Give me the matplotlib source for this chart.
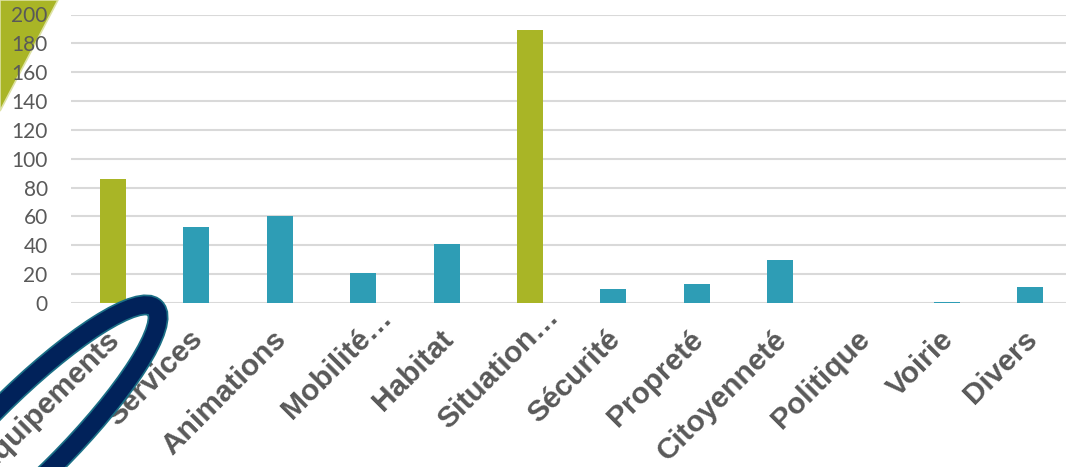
import numpy as np
import matplotlib.pyplot as plt
import matplotlib.transforms as mtransforms
from matplotlib.patches import Ellipse, Polygon

# chart data
categories = ["Equipements", "Services", "Animations", "Mobilité…", "Habitat",
              "Situation…", "Sécurité", "Propreté", "Citoyenneté", "Politique",
              "Voirie", "Divers"]
values = [86, 53, 60, 21, 41, 189, 10, 13, 30, 0, 1, 11]
highlight = [True, False, False, False, False, True,
             False, False, False, False, False, False]
y_ticks = [0, 20, 40, 60, 80, 100, 120, 140, 160, 180, 200]

green = "#A9B526"
teal = "#2E9DB5"
grey_txt = "#595959"
grid_col = "#D9D9D9"

W, H = 1066, 467
fig = plt.figure(figsize=(W / 100, H / 100), dpi=100)
fig.patch.set_facecolor("white")

# background decoration (green corner), pixel coords with y up
bg = fig.add_axes([0, 0, 1, 1], zorder=0)
bg.set_xlim(0, W)
bg.set_ylim(0, H)
bg.axis("off")
bg.add_patch(Polygon([(0, H), (58, H), (0, H - 111)], closed=True,
                     facecolor=green, edgecolor="#DDE2A4", linewidth=1.2))

# main axes placed in pixel terms
left, right = 71.3 / W, 1.0
bottom, top = (H - 303) / H, (H - 14.5) / H
ax = fig.add_axes([left, bottom, right - left, top - bottom], zorder=1)
ax.patch.set_alpha(0)

x = np.arange(len(categories))
colors = [green if h else teal for h in highlight]
ax.bar(x, values, width=0.31, color=colors, zorder=3)

ax.set_xlim(-0.5, (1066 - 113) / 83.4)
ax.set_ylim(0, 200)
ax.set_yticks(y_ticks)
ax.yaxis.grid(True, color=grid_col, linewidth=1.5, zorder=0)
ax.set_axisbelow(True)
for s in ax.spines.values():
    s.set_visible(False)
ax.tick_params(axis="both", length=0)
ax.tick_params(axis="y", pad=17, labelsize=15, labelcolor=grey_txt)
for lab in ax.get_yticklabels():
    lab.set_family(["Lato", "DejaVu Sans"])

# rotated category labels (truncated ones sit further along their diagonal)
ax.set_xticks(x)
ax.set_xticklabels([])
for xi, name in zip(x, categories):
    shift = 22 if name.endswith("…") else 0
    offset = mtransforms.ScaledTranslation((2 + shift) / 100, (-32 + shift) / 100,
                                           fig.dpi_scale_trans)
    ax.text(xi, 0, name, transform=ax.get_xaxis_transform() + offset,
            rotation=45, rotation_mode="anchor", ha="right", va="center",
            fontsize=21.5, fontweight="bold", color=grey_txt,
            family=["Liberation Sans", "DejaVu Sans"], clip_on=False)

# ring around the first label
deco = fig.add_axes([0, 0, 1, 1], zorder=10)
deco.set_xlim(0, W)
deco.set_ylim(0, H)
deco.axis("off")
deco.patch.set_alpha(0)
centre = (27, H - 436)
deco.add_patch(Ellipse(centre, 362, 80, angle=45, fill=False,
                       edgecolor="#1B6F86", linewidth=15))
deco.add_patch(Ellipse(centre, 362, 80, angle=45, fill=False,
                       edgecolor="#01225A", linewidth=12.5))

fig.savefig("out.png", dpi=100, facecolor="white")
